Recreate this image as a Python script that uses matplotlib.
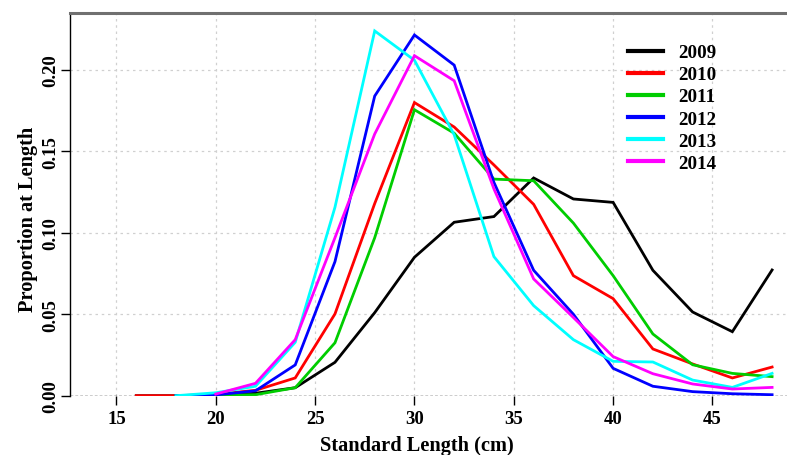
import numpy as np
import matplotlib
matplotlib.use("Agg")
import matplotlib.pyplot as plt
from matplotlib.lines import Line2D

nan = np.nan
lengths = [16, 18, 20, 22, 24, 26, 28, 30, 32, 34, 36, 38, 40, 42, 44, 46, 48]
y2009 = [0, 0, 0.0003, 0.0015, 0.0049, 0.0205, 0.051, 0.085, 0.1065, 0.110, 0.1337, 0.1208, 0.1187, 0.0770, 0.0514, 0.0393, 0.0772]
y2010 = [0, 0, 0.0008, 0.0033, 0.0109, 0.0502, 0.118, 0.180, 0.165, 0.1417, 0.1175, 0.0737, 0.0596, 0.0287, 0.0195, 0.0109, 0.0176]
y2011 = [nan, 0, 0.0003, 0.0006, 0.0049, 0.0325, 0.097, 0.1756, 0.1612, 0.133, 0.132, 0.106, 0.0737, 0.0379, 0.019, 0.0137, 0.0117]
y2012 = [nan, 0, 0.0005, 0.003, 0.0189, 0.0823, 0.184, 0.2215, 0.203, 0.131, 0.077, 0.050, 0.0168, 0.0058, 0.0025, 0.0012, 0.0006]
y2013 = [nan, 0, 0.0018, 0.0058, 0.0328, 0.1157, 0.224, 0.206, 0.1602, 0.0854, 0.0553, 0.0344, 0.0211, 0.0207, 0.0096, 0.0051, 0.0137]
y2014 = [nan, nan, 0.001, 0.0076, 0.0344, 0.097, 0.1607, 0.2088, 0.1934, 0.127, 0.0717, 0.048, 0.024, 0.0135, 0.0072, 0.0041, 0.0051]
years = ["2009", "2010", "2011", "2012", "2013", "2014"]
colors = ["#000000", "#FF0000", "#00CD00", "#0000FF", "#00FFFF", "#FF00FF"]
series = [y2009, y2010, y2011, y2012, y2013, y2014]
xticks = [15, 20, 25, 30, 35, 40, 45]
yticks = [0.00, 0.05, 0.10, 0.15, 0.20]
ytick_labels = ["0.00", "0.05", "0.10", "0.15", "0.20"]

plt.rcParams['font.family'] = ['Liberation Serif', 'DejaVu Serif']
plt.rcParams['font.weight'] = 'bold'

W, H = 787, 456
fig = plt.figure(figsize=(W / 100, H / 100), dpi=100)
left, right, top, bottom = 69.5, 787, 14, 396.7
aw, ah = right - left, bottom - top
ax = fig.add_axes([left / W, 1 - bottom / H, aw / W, ah / H])

ax.set_xlim(12.64, 48.75)
ax.set_ylim(0, 0.235)

# grid
for xv in xticks:
    ax.axvline(xv, color="#d0d0d0", lw=0.9, ls=(0, (2, 3)), zorder=0)
for yv in yticks[1:]:
    ax.axhline(yv, color="#d0d0d0", lw=0.9, ls=(0, (2, 3)), zorder=0)
ax.axhline(0, color="#000000", lw=1.0, ls=(0, (2, 1.5)), zorder=1)

for ys, c, lab in zip(series, colors, years):
    ax.plot(lengths, ys, color=c, lw=2.0, label=lab, zorder=3, solid_joinstyle='miter')

for s in ["right", "bottom"]:
    ax.spines[s].set_visible(False)
ax.spines["top"].set_color("#707070")
ax.spines["top"].set_linewidth(2.2)
ax.spines["left"].set_color("#000000")
ax.spines["left"].set_linewidth(1.0)

ax.set_xticks(xticks)
ax.set_xticklabels([str(v) for v in xticks], fontsize=13.5, fontweight='bold')
ax.set_yticks(yticks)
ax.set_yticklabels(ytick_labels, fontsize=13.5, fontweight='bold', rotation=90, va='center')
ax.tick_params(axis='x', direction='out', length=6.5, width=1.0, color='black', pad=4)
ax.tick_params(axis='y', direction='out', length=6.5, width=1.0, color='black', pad=1)

ax.set_xlabel("Standard Length (cm)", fontsize=14.7, fontweight='bold')
ax.set_ylabel("Proportion at Length", fontsize=14.7, fontweight='bold')
ax.xaxis.set_label_coords((417 - left) / aw, -(436 - bottom) / ah)
ax.yaxis.set_label_coords((38 - left) / aw, (bottom - 219) / ah)

handles = [Line2D([0], [0], color=c, lw=3.0) for c in colors]
leg = ax.legend(handles, years, loc='upper left',
                bbox_to_anchor=((628 - left) / aw, 1 - (45 - top) / ah),
                frameon=False, fontsize=13.7, handlelength=1.84, handletextpad=0.79, labelspacing=0.25,
                borderaxespad=0, borderpad=0)
for t in leg.get_texts():
    t.set_fontweight('bold')

fig.savefig("out.png", dpi=100)
